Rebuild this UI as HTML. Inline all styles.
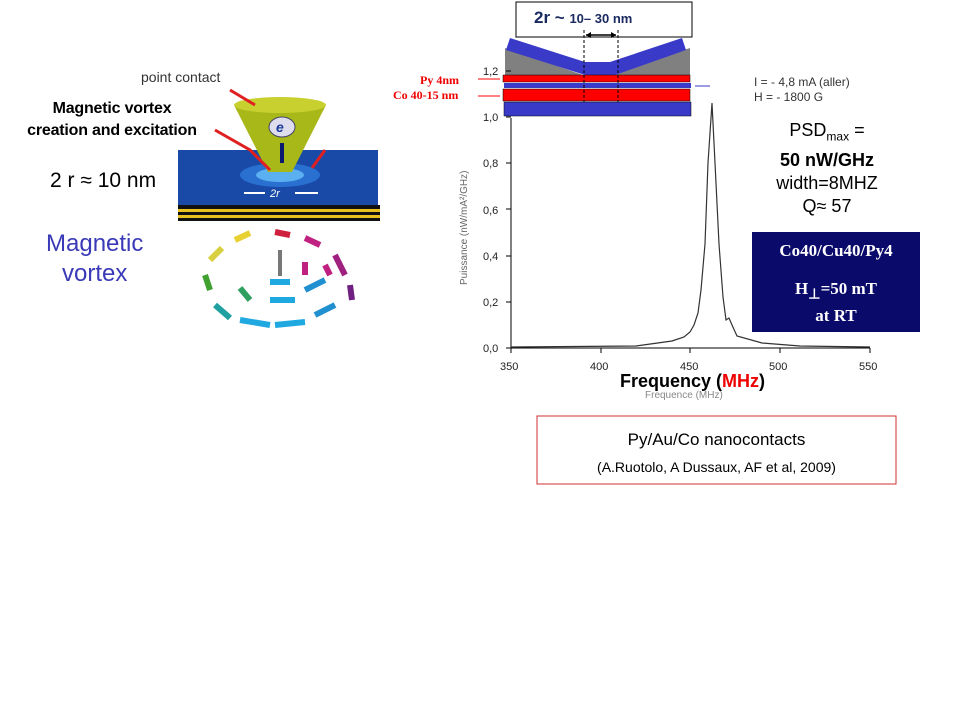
<!DOCTYPE html>
<html><head><style>
body{margin:0;background:#fff;width:960px;height:720px;overflow:hidden;position:relative;font-family:"Liberation Sans",sans-serif}
.a{position:absolute;white-space:nowrap}
</style></head><body>
<svg width="960" height="720" style="position:absolute;left:0;top:0">
<rect x="178" y="150" width="200" height="55" fill="#1a4aa8"/>
<ellipse cx="280" cy="175" rx="40" ry="12" fill="#2a70d0"/>
<ellipse cx="280" cy="175" rx="24" ry="7" fill="#5ab0f0"/>
<rect x="178" y="205" width="202" height="16" fill="#111"/>
<rect x="178" y="209" width="202" height="3" fill="#e8c020"/>
<rect x="178" y="215" width="202" height="3" fill="#e8c020"/>
<path d="M234 105 L326 105 L292 172 L268 172 Z" fill="#a8b818"/>
<ellipse cx="280" cy="105" rx="46" ry="8" fill="#c8d030"/>
<ellipse cx="282" cy="127" rx="13" ry="10" fill="#dde" stroke="#446" />
<text x="276" y="132" font-size="14" font-weight="bold" fill="#1a3a9a" font-style="italic">e</text>
<rect x="280" y="143" width="4" height="20" fill="#0a1a70"/>
<text x="270" y="197" font-size="11" fill="#fff" font-style="italic">2r</text>
<path d="M244 193 H265 M295 193 H318" stroke="#fff" stroke-width="2"/>
<path d="M230 90 L255 105 M215 130 L250 150 L270 170 M325 150 L312 168" stroke="#e02020" stroke-width="3" fill="none"/>
<g stroke-width="6" fill="none">
<path d="M210 260 L222 248" stroke="#d8d040"/><path d="M235 240 L250 233" stroke="#e8d030"/>
<path d="M275 232 L290 235" stroke="#d02040"/><path d="M305 238 L320 245" stroke="#c02080"/>
<path d="M335 255 L345 275" stroke="#a02080"/><path d="M350 285 L352 300" stroke="#702080"/>
<path d="M205 275 L210 290" stroke="#40a030"/><path d="M215 305 L230 318" stroke="#20a0a0"/>
<path d="M240 320 L270 325" stroke="#20a8e0"/><path d="M275 325 L305 322" stroke="#20a8e0"/>
<path d="M315 315 L335 305" stroke="#2090d0"/><path d="M240 288 L250 300" stroke="#30a060"/>
<path d="M270 300 L295 300" stroke="#20a8e0"/><path d="M270 282 L290 282" stroke="#20a8e0"/>
<path d="M305 290 L325 280" stroke="#2090d0"/><path d="M305 262 L305 275" stroke="#c02080"/>
<path d="M325 265 L330 275" stroke="#c02080"/>
</g>
<path d="M280 250 L280 276" stroke="#777" stroke-width="4"/>
<rect x="516" y="2" width="176" height="35" fill="#fff" stroke="#000"/>
<path d="M505 48 L505 75 L583 75 Z M690 48 L690 75 L610 75 Z" fill="#808080"/>
<path d="M510 38 L585 62 L610 62 L682 38 L686 50 L615 75 L585 75 L506 50 Z" fill="#3a3ac8"/>
<rect x="503" y="75" width="187" height="7" fill="#f00" stroke="#000" stroke-width=".5"/>
<rect x="504" y="83" width="187" height="5" fill="#3a3ac8"/>
<rect x="503" y="89" width="187" height="12" fill="#f00" stroke="#000" stroke-width=".5"/>
<rect x="504" y="102" width="187" height="14" fill="#3a3ac8" stroke="#000" stroke-width=".5"/>
<path d="M584 30 V102 M618 30 V102" stroke="#000" stroke-dasharray="3,2"/>
<path d="M586 35 H616" stroke="#000" stroke-width="1.5"/>
<path d="M586 35 l5 -3 v6z M616 35 l-5 -3 v6z" fill="#000"/>
<path d="M478 79 H500 M478 96 H500" stroke="#f00"/>
<path d="M710 86 H695" stroke="#3a3ac8"/>
<path d="M511 118 V348 H870" stroke="#000" fill="none"/>
<g stroke="#000">
<path d="M506 348 H511 M506 302 H511 M506 256 H511 M506 209 H511 M506 163 H511 M506 117 H511 M506 71 H511"/>
<path d="M511 348 V353 M601 348 V353 M690 348 V353 M780 348 V353 M870 348 V353"/>
</g>
<polyline fill="none" stroke="#333" stroke-width="1.2" points="511,347 636,346 672,341 684,337 690,332 694,325 698,313 701,290 705,244 708,163 712,103 715,163 719,244 723,297 726,320 729,318 732,325 737,336 762,343 800,346 870,347"/>
<g font-size="11" fill="#222" font-family="Liberation Sans">
<text x="483" y="352">0,0</text><text x="483" y="306">0,2</text><text x="483" y="260">0,4</text><text x="483" y="214">0,6</text><text x="483" y="167">0,8</text><text x="483" y="121">1,0</text><text x="483" y="75">1,2</text>
<text x="500" y="370">350</text><text x="590" y="370">400</text><text x="680" y="370">450</text><text x="769" y="370">500</text><text x="859" y="370">550</text>
<text x="645" y="398" fill="#888" font-size="10">Frequence (MHz)</text>
<text transform="translate(467,285) rotate(-90)" fill="#666" font-size="10">Puissance (nW/mA²/GHz)</text>
</g>
<rect x="752" y="232" width="168" height="100" fill="#0a0a6a"/>
<rect x="537" y="416" width="359" height="68" fill="#fff" stroke="#d03030"/>
</svg>
<div class="a" style="left:534px;top:8px;font-size:17px;font-weight:bold;color:#1a2a60">2r ~ <span style="font-size:13px">10– 30 nm</span></div>
<div class="a" style="left:420px;top:73px;font:bold 12px 'Liberation Serif',serif;color:#e00">Py 4nm</div>
<div class="a" style="left:393px;top:88px;font:bold 12px 'Liberation Serif',serif;color:#e00">Co 40-15 nm</div>
<div class="a" style="left:754px;top:75px;font-size:12px;color:#333;line-height:15px">I = - 4,8 mA (aller)<br>H = - 1800 G</div>
<div class="a" style="left:757px;top:119px;width:140px;text-align:center;font-size:18px;line-height:23px;color:#000">PSD<sub style="font-size:12px">max</sub> =<br><b style="font-size:18px">50 nW/GHz</b><br>width=8MHZ<br>Q≈ 57</div>
<div class="a" style="left:752px;top:238px;width:168px;text-align:center;font:bold 17px 'Liberation Serif',serif;color:#fff;line-height:25px">Co40/Cu40/Py4</div>
<div class="a" style="left:752px;top:278px;width:168px;text-align:center;font:bold 17px 'Liberation Serif',serif;color:#fff;line-height:22px">H<sub>⊥</sub>=50 mT<br>at RT</div>
<div class="a" style="left:620px;top:371px;font-size:18px;font-weight:bold">Frequency (<span style="color:#e00">MHz</span>)</div>
<div class="a" style="left:537px;top:430px;width:359px;text-align:center;font-size:17px">Py/Au/Co nanocontacts</div>
<div class="a" style="left:537px;top:459px;width:359px;text-align:center;font-size:14px">(A.Ruotolo, A Dussaux, AF et al, 2009)</div>
<div class="a" style="left:141px;top:69px;font-size:14px;color:#333">point contact</div>
<div class="a" style="left:10px;top:98px;width:204px;font-size:16px;font-weight:bold;line-height:22px;text-align:center;letter-spacing:-0.2px">Magnetic vortex<br>creation and excitation</div>
<div class="a" style="left:50px;top:169px;font-size:21px">2 r ≈ 10 nm</div>
<div class="a" style="left:46px;top:229px;font-size:24px;color:#3a3ab8;text-align:center;line-height:30px">Magnetic<br>vortex</div>
</body></html>
